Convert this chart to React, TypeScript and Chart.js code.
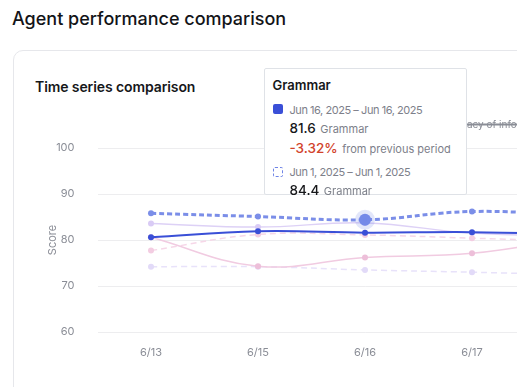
import React, { useEffect, useRef } from 'react';
import { Chart, registerables } from 'chart.js';

Chart.register(...registerables);

const FONT = 'Inter, "Noto Sans", sans-serif';

const xLabels = ['6/13', '6/15', '6/16', '6/17', '6/18'];
const currentDates = ['Jun 13, 2025', 'Jun 15, 2025', 'Jun 16, 2025', 'Jun 17, 2025', 'Jun 18, 2025'];
const previousDates = ['May 29, 2025', 'May 31, 2025', 'Jun 1, 2025', 'Jun 2, 2025', 'Jun 3, 2025'];
const yMin = 60;
const yMax = 100;
const yStep = 10;

const metricNames = ['Grammar', 'Tone', 'Accuracy of information', 'Relevance'];

const grammarCurrent = [80.6, 81.9, 81.6, 81.7, 81.2];
const grammarPrevious = [85.8, 85.1, 84.4, 86.2, 85.3];
const toneCurrent = [80.6, 74.3, 76.2, 77.1, 80.6];
const tonePrevious = [77.7, 81.2, 81.1, 80.4, 79.7];
const accuracyCurrent = [88.1, 87.4, 88.6, 87.9, 88.3];
const accuracyPrevious = [86.9, 87.8, 87.2, 88.0, 87.5];
const relevanceCurrent = [83.6, 82.8, 83.7, 81.5, 80.8];
const relevancePrevious = [74.2, 74.2, 73.5, 73.0, 72.4];

const HOVER_DATASET = 1;
const HOVER_INDEX = 2;

const CANVAS_LEFT = 38;
const CANVAS_TOP = 108;
const CANVAS_W = 620;
const CANVAS_H = 270;
const TIP_W = 203;
const TIP_H = 127;

const GRAY = '#8a8d96';

function line(label: string, data: number[], color: string, pointColor: string, opts: any = {}) {
  return {
    label,
    data,
    borderColor: color,
    backgroundColor: pointColor,
    pointBackgroundColor: pointColor,
    pointBorderColor: pointColor,
    pointRadius: 3,
    pointBorderWidth: 0,
    borderWidth: 1.5,
    tension: 0.4,
    fill: false,
    ...opts,
  };
}

const legendMargin = {
  id: 'legendMargin',
  beforeInit(chart: any) {
    const legend = chart.legend;
    if (!legend) return;
    const orig = legend.fit;
    legend.fit = function () {
      orig.call(this);
      this.height += 8;
    };
  },
};

export default function App() {
  const canvasRef = useRef<HTMLCanvasElement | null>(null);
  const tipRef = useRef<HTMLDivElement | null>(null);

  useEffect(() => {
    document.body.style.margin = '0';
    const canvas = canvasRef.current!;
    const external = (ctx: any) => {
      const el = tipRef.current;
      const tooltip = ctx.tooltip;
      if (!el) return;
      if (!tooltip || tooltip.opacity === 0) {
        el.style.opacity = '0';
        return;
      }
      el.style.opacity = '1';
      el.style.left = `${CANVAS_LEFT + tooltip.caretX - TIP_W / 2}px`;
      el.style.top = `${CANVAS_TOP + tooltip.caretY - TIP_H - 25}px`;
    };

    const datasets: any[] = [
      line(metricNames[0], grammarCurrent, '#3a4fd7', '#3a4fd7', { borderWidth: 2, isPrev: false }),
      line(metricNames[0], grammarPrevious, '#7b8ee8', '#7b8ee8', {
        borderWidth: 3,
        borderDash: [5, 3],
        isPrev: true,
        pointHoverRadius: 6,
        pointHoverBorderWidth: 8,
        pointHoverBackgroundColor: '#7388e8',
        pointHoverBorderColor: 'rgba(123,142,232,0.22)',
      }),
      line(metricNames[1], toneCurrent, '#f1cbe1', '#edbfd9', { isPrev: false }),
      line(metricNames[1], tonePrevious, '#f6d7e8', '#f3cde2', { borderDash: [6, 4], isPrev: true }),
      line(metricNames[2], accuracyCurrent, '#9fd3c7', '#9fd3c7', { hidden: true, isPrev: false }),
      line(metricNames[2], accuracyPrevious, '#c6e6de', '#c6e6de', { hidden: true, borderDash: [6, 4], isPrev: true }),
      line(metricNames[3], relevanceCurrent, '#ddd1f6', '#d9cbf5', { isPrev: false }),
      line(metricNames[3], relevancePrevious, '#e8e2fa', '#e2daf8', { borderDash: [6, 4], isPrev: true }),
    ];

    const chart = new Chart(canvas, {
      type: 'line',
      data: { labels: xLabels, datasets },
      plugins: [legendMargin],
      options: {
        responsive: false,
        maintainAspectRatio: false,
        animation: false,
        events: [],
        layout: { padding: { left: 4, right: 25.5, top: 2, bottom: 4.8 } },
        plugins: {
          legend: {
            display: true,
            position: 'top',
            align: 'end',
            labels: {
              color: GRAY,
              font: { family: FONT, size: 10 },
              boxWidth: 6,
              boxHeight: 10,
              padding: 10,
              filter: (item: any, data: any) => !data.datasets[item.datasetIndex].isPrev,
            },
          },
          tooltip: { enabled: false, external, mode: 'nearest', intersect: false },
        },
        scales: {
          x: {
            type: 'category',
            offset: true,
            grid: { display: false, drawTicks: false },
            border: { display: false },
            ticks: { color: GRAY, font: { family: FONT, size: 11 }, padding: 14 },
          },
          y: {
            min: yMin,
            max: yMax,
            afterFit: (scale: any) => {
              scale.width = 55.5;
            },
            grid: { color: '#ededef', lineWidth: 1, drawTicks: false },
            border: { display: false },
            ticks: { stepSize: yStep, color: GRAY, font: { family: FONT, size: 11 }, padding: 23 },
            title: { display: true, text: 'Score', color: GRAY, font: { family: FONT, size: 11 } },
          },
        },
      } as any,
    });

    const pt = chart.getDatasetMeta(HOVER_DATASET).data[HOVER_INDEX] as any;
    const active = [{ datasetIndex: HOVER_DATASET, index: HOVER_INDEX }];
    chart.setActiveElements(active);
    chart.tooltip!.setActiveElements(active, { x: pt.x, y: pt.y });
    chart.update();

    return () => chart.destroy();
  }, []);

  const cur = grammarCurrent[HOVER_INDEX];
  const prev = grammarPrevious[HOVER_INDEX];
  const pct = ((cur - prev) / prev) * 100;
  const pctText = `${pct > 0 ? '+' : ''}${pct.toFixed(2)}%`;

  const lineStyle = (top: number): React.CSSProperties => ({
    position: 'absolute',
    left: 25,
    top: top - 8,
    lineHeight: '16px',
    whiteSpace: 'nowrap',
  });
  const small: React.CSSProperties = { fontSize: 11, color: '#7d808a' };
  const dateStyle: React.CSSProperties = { fontSize: 11, color: '#7d808a', letterSpacing: '-0.45px' };
  const big: React.CSSProperties = { fontSize: 13.5, color: '#16171a', fontWeight: 500 };

  return (
    <div
      style={{
        position: 'fixed',
        left: 0,
        top: 0,
        width: 517,
        height: 387,
        overflow: 'hidden',
        background: '#ffffff',
        fontFamily: FONT,
      }}
    >
      <div
        style={{
          position: 'absolute',
          left: 12,
          top: 7,
          fontSize: 18,
          lineHeight: '24px',
          color: '#131418',
          fontWeight: 500,
          whiteSpace: 'nowrap',
        }}
      >
        Agent performance comparison
      </div>
      <div
        style={{
          position: 'absolute',
          left: 13,
          top: 50,
          width: 760,
          height: 420,
          border: '1px solid #e6e7eb',
          borderRadius: 10,
          boxSizing: 'border-box',
        }}
      />
      <div
        style={{
          position: 'absolute',
          left: 35,
          top: 78,
          fontSize: 14,
          lineHeight: '18px',
          letterSpacing: '-0.1px',
          color: '#16171a',
          fontWeight: 600,
          whiteSpace: 'nowrap',
        }}
      >
        Time series comparison
      </div>
      <canvas
        ref={canvasRef}
        width={CANVAS_W}
        height={CANVAS_H}
        style={{ position: 'absolute', left: CANVAS_LEFT, top: CANVAS_TOP, width: CANVAS_W, height: CANVAS_H }}
      />
      <div
        ref={tipRef}
        style={{
          position: 'absolute',
          left: 263,
          top: 67,
          width: TIP_W,
          height: TIP_H,
          boxSizing: 'border-box',
          background: '#ffffff',
          border: '1px solid #dfe2e7',
          borderRadius: 2,
          pointerEvents: 'none',
        }}
      >
        <div style={{ position: 'absolute', left: 8, top: 16 - 9, lineHeight: '18px', fontSize: 13, fontWeight: 600, color: '#16171a' }}>
          {metricNames[0]}
        </div>
        <div style={{ position: 'absolute', left: 8, top: 35, width: 10, height: 10, background: '#3a4fd7', borderRadius: 2 }} />
        <div style={{ ...lineStyle(41), ...dateStyle }}>
          {currentDates[HOVER_INDEX]} – {currentDates[HOVER_INDEX]}
        </div>
        <div style={lineStyle(58)}>
          <span style={big}>{cur.toFixed(1)}</span> <span style={small}>{metricNames[0]}</span>
        </div>
        <div style={lineStyle(78)}>
          <span style={{ fontSize: 13.5, color: '#d2432b', fontWeight: 500 }}>{pctText}</span>{' '}
          <span style={small}>from previous period</span>
        </div>
        <div
          style={{
            position: 'absolute',
            left: 8,
            top: 98,
            width: 10,
            height: 10,
            boxSizing: 'border-box',
            border: '1px dashed #6f84e6',
            borderRadius: 2,
          }}
        />
        <div style={{ ...lineStyle(103), ...dateStyle }}>
          {previousDates[HOVER_INDEX]} – {previousDates[HOVER_INDEX]}
        </div>
        <div style={lineStyle(120)}>
          <span style={big}>{prev.toFixed(1)}</span> <span style={small}>{metricNames[0]}</span>
        </div>
      </div>
    </div>
  );
}
